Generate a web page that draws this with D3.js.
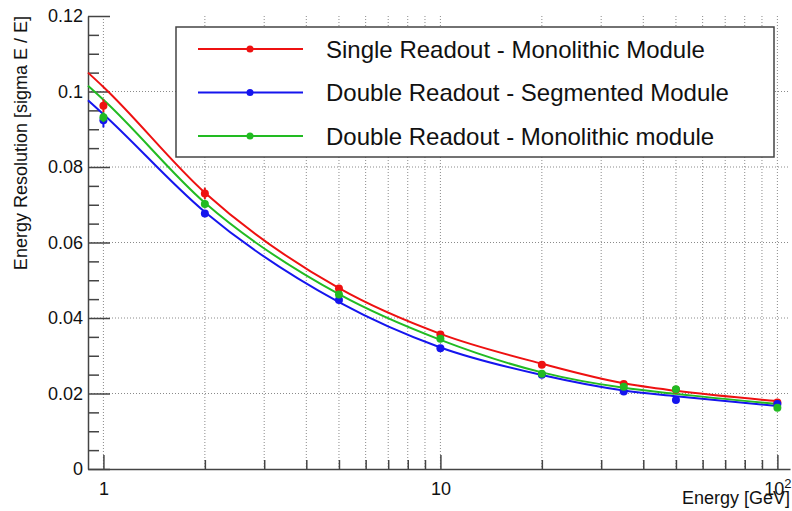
<script src='https://d3js.org/d3.v7.min.js'></script>

<style>
  body {
    margin: 0;
    background: white;
  }

  svg text {
    font-family: "Liberation Sans", Arial, sans-serif;
    fill: #111;
  }

  .grid line {
    stroke: #8a8a8a;
    stroke-width: 1;
    stroke-dasharray: 1, 2;
  }
</style>

<body>
<script>
  // measured points
  var energies = [1, 2, 5, 10, 20, 35, 50, 100];
  var singleMono = [0.0962, 0.0730, 0.0478, 0.0356, 0.0276, 0.0225, 0.0210, 0.0176];
  var doubleSeg = [0.0924, 0.0677, 0.0448, 0.0320, 0.0250, 0.0205, 0.0183, 0.0172];
  var doubleMono = [0.0932, 0.0702, 0.0462, 0.0345, 0.0252, 0.0218, 0.0211, 0.0162];
  var singleMonoErr = [0.0017, 0.0015, 0.0009, 0.0006, 0.0004, 0.0004, 0.0004, 0.0004];
  var doubleSegErr = [0.0019, 0.0008, 0.0008, 0.0005, 0.0004, 0.0004, 0.0004, 0.0004];
  var doubleMonoErr = [0.0013, 0.0010, 0.0009, 0.0006, 0.0004, 0.0004, 0.0004, 0.0004];

  // fit curves
  var fitEnergies = [0.9, 1, 2, 5, 10, 20, 35, 50, 100];
  var singleMonoFit = [0.1050, 0.1012, 0.0732, 0.0479, 0.0358, 0.0279, 0.0227, 0.0207, 0.0180];
  var doubleSegFit = [0.0977, 0.0940, 0.0681, 0.0442, 0.0322, 0.0249, 0.0208, 0.0193, 0.0167];
  var doubleMonoFit = [0.1015, 0.0978, 0.0705, 0.0463, 0.0342, 0.0256, 0.0215, 0.0199, 0.0172];

  var seriesNames = ["Single Readout - Monolithic Module", "Double Readout - Segmented Module", "Double Readout - Monolithic module"];
  var seriesColors = ["#ee1111", "#1515ee", "#22bb22"];

  var yMajorTicks = [0, 0.02, 0.04, 0.06, 0.08, 0.1, 0.12];
  var xMajorTicks = [1, 10, 100];
  var xMinorTicks = [2, 3, 4, 5, 6, 7, 8, 9, 20, 30, 40, 50, 60, 70, 80, 90];

  var series = [
    { name: seriesNames[0], color: seriesColors[0], vals: singleMono, err: singleMonoErr, fit: singleMonoFit },
    { name: seriesNames[1], color: seriesColors[1], vals: doubleSeg, err: doubleSegErr, fit: doubleSegFit },
    { name: seriesNames[2], color: seriesColors[2], vals: doubleMono, err: doubleMonoErr, fit: doubleMonoFit }
  ];

  var width = 792,
    height = 511;
  var padLeft = 88,
    padRight = 790,
    padTop = 16,
    padBottom = 469;

  var svg = d3.select("body")
    .append("svg")
    .attr("width", width)
    .attr("height", height);

  var x = d3.scaleLog().domain([0.9, 109]).range([padLeft, padRight]);
  var y = d3.scaleLinear().domain([0, 0.12]).range([padBottom, padTop]);

  // grid
  var grid = svg.append("g").attr("class", "grid");
  grid.selectAll(".vg")
    .data(xMajorTicks.concat(xMinorTicks))
    .enter()
    .append("line")
    .attr("x1", function(d) { return x(d); })
    .attr("x2", function(d) { return x(d); })
    .attr("y1", padTop)
    .attr("y2", padBottom);
  grid.selectAll(".hg")
    .data([0.02, 0.04, 0.06, 0.08, 0.1])
    .enter()
    .append("line")
    .attr("x1", padLeft)
    .attr("x2", padRight)
    .attr("y1", function(d) { return y(d); })
    .attr("y2", function(d) { return y(d); });

  // y axis
  var yMinor = d3.range(0, 0.1201, 0.005).filter(function(d) {
    return Math.abs(Math.round(d / 0.02) * 0.02 - d) > 1e-6;
  });
  svg.append("g")
    .attr("transform", "translate(" + padLeft + ",0)")
    .call(d3.axisLeft(y).tickValues(yMinor).tickSize(-11).tickSizeOuter(0).tickFormat(""))
    .call(function(g) { g.select(".domain").remove(); });
  var yAxis = svg.append("g")
    .attr("transform", "translate(" + padLeft + ",0)")
    .call(d3.axisLeft(y).tickValues(yMajorTicks).tickSize(-22).tickSizeOuter(0).tickPadding(5)
      .tickFormat(function(d) { return String(+d.toFixed(2)); }));
  yAxis.selectAll("text").attr("font-size", "18px");

  // x axis
  svg.append("g")
    .attr("transform", "translate(0," + padBottom + ")")
    .call(d3.axisBottom(x).tickValues(xMinorTicks).tickSize(-9).tickSizeOuter(0).tickFormat(""))
    .call(function(g) { g.select(".domain").remove(); });
  var xAxis = svg.append("g")
    .attr("transform", "translate(0," + padBottom + ")")
    .call(d3.axisBottom(x).tickValues(xMajorTicks).tickSize(-14).tickSizeOuter(0).tickPadding(13)
      .tickFormat(function(d) { return d === 100 ? "10" : String(d); }));
  xAxis.selectAll("text").attr("font-size", "18px");
  xAxis.selectAll("text")
    .filter(function(d) { return d === 100; })
    .append("tspan")
    .attr("dy", "-0.5em")
    .attr("font-size", "13px")
    .text("2");

  svg.selectAll(".domain, .tick line")
    .attr("stroke", "#444")
    .attr("stroke-width", 1.5);
  svg.selectAll(".tick text").attr("fill", "#111");
  svg.selectAll("g").attr("font-family", null);

  // titles
  svg.append("text")
    .attr("x", padRight)
    .attr("y", 504)
    .attr("text-anchor", "end")
    .attr("font-size", "18px")
    .text("Energy [GeV]");

  svg.append("text")
    .attr("transform", "translate(27," + padTop + ") rotate(-90)")
    .attr("text-anchor", "end")
    .attr("font-size", "18px")
    .text("Energy Resolution [sigma E / E]");

  // fit curves
  var fitLine = d3.line()
    .x(function(d) { return x(d[0]); })
    .y(function(d) { return y(d[1]); })
    .curve(d3.curveMonotoneX);

  series.forEach(function(s) {
    svg.append("path")
      .datum(fitEnergies.map(function(e, i) { return [e, s.fit[i]]; }))
      .attr("fill", "none")
      .attr("stroke", s.color)
      .attr("stroke-width", 2)
      .attr("d", fitLine);
  });

  // points with error bars
  series.forEach(function(s) {
    var g = svg.append("g").attr("fill", s.color).attr("stroke", s.color);
    g.selectAll("line")
      .data(energies)
      .enter()
      .append("line")
      .attr("x1", function(d) { return x(d); })
      .attr("x2", function(d) { return x(d); })
      .attr("y1", function(d, i) { return y(s.vals[i] + s.err[i]); })
      .attr("y2", function(d, i) { return y(s.vals[i] - s.err[i]); })
      .attr("stroke-width", 2);
    g.selectAll("circle")
      .data(energies)
      .enter()
      .append("circle")
      .attr("cx", function(d) { return x(d); })
      .attr("cy", function(d, i) { return y(s.vals[i]); })
      .attr("r", 4)
      .attr("stroke", "none");
  });

  // legend
  var legend = svg.append("g");
  legend.append("rect")
    .attr("x", 176)
    .attr("y", 27)
    .attr("width", 598)
    .attr("height", 130)
    .attr("fill", "white")
    .attr("stroke", "#444")
    .attr("stroke-width", 1.5);

  var entry = legend.selectAll(".entry")
    .data(series)
    .enter()
    .append("g")
    .attr("transform", function(d, i) {
      return "translate(0," + (49 + i * 43.5) + ")";
    });
  entry.append("line")
    .attr("x1", 198)
    .attr("x2", 303)
    .attr("stroke", function(d) { return d.color; })
    .attr("stroke-width", 2);
  entry.append("circle")
    .attr("cx", 250)
    .attr("r", 3.5)
    .attr("fill", function(d) { return d.color; });
  entry.append("text")
    .attr("x", 326)
    .attr("y", 8.5)
    .attr("font-size", "24px")
    .text(function(d) { return d.name; });
</script>
</body>
